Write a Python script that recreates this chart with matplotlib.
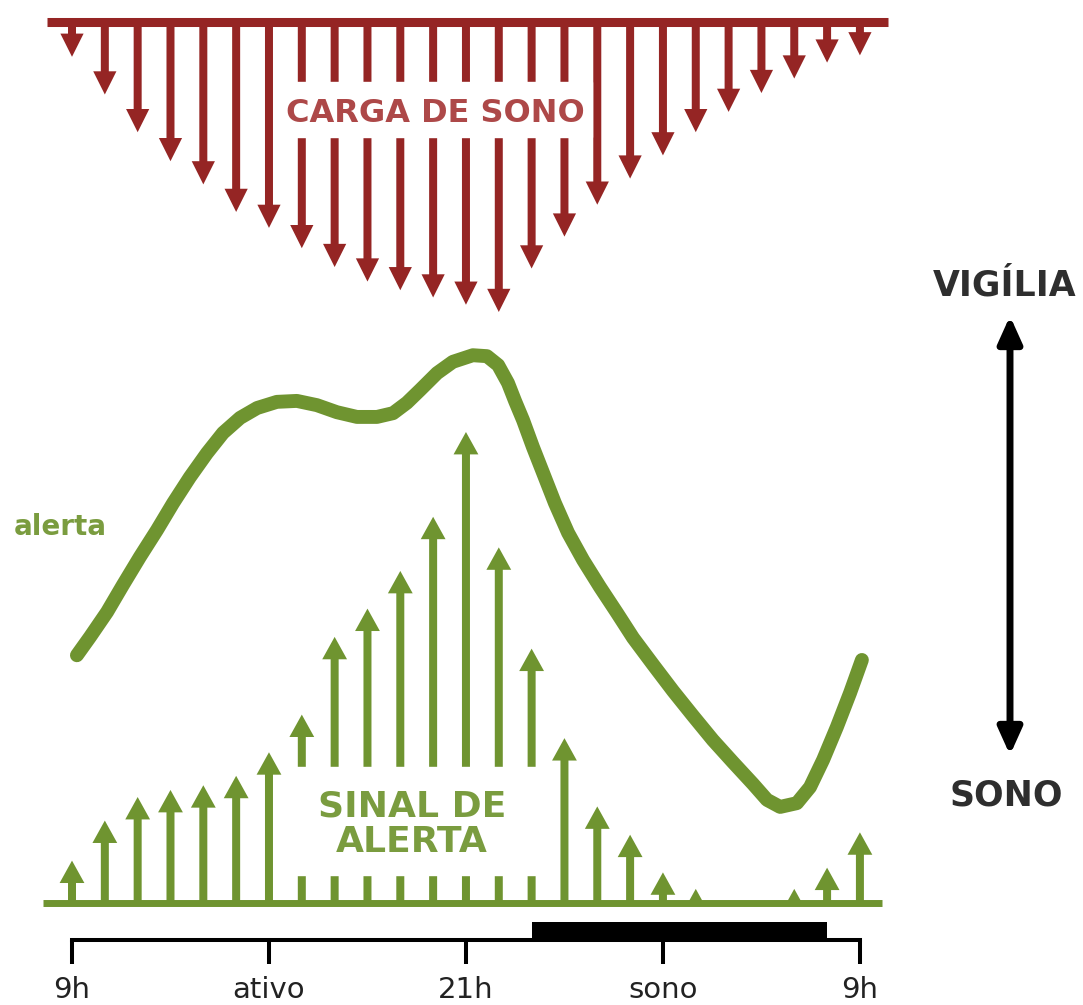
import numpy as np
import matplotlib.pyplot as plt
from matplotlib.patches import Rectangle, FancyArrowPatch

# -------- DADOS --------
# horas desde as 9h (0 = 9h, 24 = 9h do dia seguinte)
horas = np.arange(25)
carga_sono = [12, 25, 38, 48, 56, 65.5, 71, 78, 84.5, 89.5, 92.5, 95, 97.5, 100,
              85, 74, 63, 54, 46, 38, 31, 24.5, 19.5, 14, 11.5]
sinal_alerta = [9, 17.5, 22.5, 24, 25, 27, 32, 40, 56.5, 62.5, 70.5, 82, 100,
                75.5, 54, 35, 20.5, 14.5, 6.5, 3, 0, 0, 3, 7.5, 15]

# curva de alerta (mesma escala do sinal)
curva_h = [0.15, 0.55, 1.07, 1.55, 2.07, 2.59, 3.08, 3.59, 4.11, 4.6, 5.12, 5.64,
           6.24, 6.85, 7.46, 8.07, 8.68, 9.29, 9.78, 10.2, 10.6, 11.12, 11.6,
           12.21, 12.64, 12.98, 13.28, 13.5, 13.74, 14.04, 14.35, 14.71, 15.11,
           15.57, 16.08, 16.6, 17.09, 17.7, 18.31, 18.92, 19.52, 20.13, 20.74,
           21.17, 21.57, 22.08, 22.48, 22.88, 23.3, 23.7, 24.06]
curva_alerta = [52.6, 56.5, 61.8, 67.5, 73.5, 79.2, 84.9, 90.4, 95.5, 99.8, 103.0,
                105.1, 106.4, 106.6, 105.7, 104.2, 103.2, 103.2, 104.0, 106.2,
                108.9, 112.5, 114.9, 116.3, 116.1, 114.2, 110.4, 106.5, 102.5,
                96.8, 91.3, 84.9, 78.6, 72.8, 67.1, 61.6, 56.3, 50.6, 45.0, 39.7,
                34.6, 29.9, 25.3, 21.9, 20.4, 21.2, 24.6, 30.4, 37.4, 44.6, 51.6]

ticks_h = [0, 6, 12, 18, 24]
ticks_lbl = ['9h', 'ativo', '21h', 'sono', '9h']
sono_inicio, sono_fim = 14, 23

VERMELHO = '#952524'
VERMELHO_TXT = '#ad4848'
VERDE = '#6f9430'
VERDE_TXT = '#7a9c3f'
CINZA = '#2e2e2e'

# -------- FIGURA --------
W, H = 1083, 1005
fig = plt.figure(figsize=(W / 100, H / 100), dpi=100)
X0, DX = 72, 32.83          # posição da hora 0 e pixels por hora
xlim = (-X0 / DX, (W - X0) / DX)


def fy(px):
    return 1 - px / H


# carga de sono (setas para baixo)
ax_red = fig.add_axes([0, fy(330), 1, 330 / H])
ax_red.set_xlim(*xlim)
ax_red.set_ylim((330 - 22) / 2.9, -22 / 2.9)
ax_red.axis('off')
ax_red.hlines(0, -0.76, 24.86, color=VERMELHO, lw=6.5, zorder=3)
ax_red.quiver(horas, np.zeros(len(horas)), np.zeros(len(horas)), carga_sono,
              angles='xy', scale_units='xy', scale=1, units='dots', width=8,
              headwidth=2.9, headlength=2.9, headaxislength=2.9, minlength=0,
              pivot='tail', color=VERMELHO, zorder=2)
ax_red.add_patch(Rectangle((6.35, 20.7), 9.5, 19, color='white', zorder=4))
ax_red.text(11.06, 34.5, 'CARGA DE SONO', ha='center', va='baseline',
            fontsize=23, fontweight='bold', color=VERMELHO_TXT, zorder=5)

# sinal de alerta e curva
ax_green = fig.add_axes([0, fy(903), 1, (903 - 330) / H])
ax_green.set_xlim(*xlim)
ax_green.set_ylim(0, (903 - 330) / 4.71)
ax_green.axis('off')
ax_green.quiver(horas, np.zeros(len(horas)), np.zeros(len(horas)), sinal_alerta,
                angles='xy', scale_units='xy', scale=1, units='dots', width=8,
                headwidth=3.1, headlength=2.8, headaxislength=2.8, minlength=0,
                pivot='tail', color=VERDE, zorder=2)
ax_green.hlines(0, -0.88, 24.67, color=VERDE, lw=5, zorder=3, clip_on=False)
ax_green.add_patch(Rectangle((6.5, 5.9), 8.0, 23, color='white', zorder=4))
ax_green.text(10.36, 18.3, 'SINAL DE', ha='center', va='baseline',
              fontsize=26, fontweight='bold', color=VERDE_TXT, zorder=5)
ax_green.text(10.36, 10.8, 'ALERTA', ha='center', va='baseline',
              fontsize=26, fontweight='bold', color=VERDE_TXT, zorder=5)
ax_green.plot(curva_h, curva_alerta, color=VERDE, lw=10,
              solid_capstyle='round', solid_joinstyle='round', zorder=3)

# eixo do tempo
ax_t = fig.add_axes([0, fy(940), 1, 20 / H])
ax_t.set_xlim(*xlim)
ax_t.set_ylim(0, 1)
ax_t.patch.set_visible(False)
for s in ['top', 'left', 'right']:
    ax_t.spines[s].set_visible(False)
ax_t.spines['bottom'].set_linewidth(2.9)
ax_t.spines['bottom'].set_bounds(0, 24)
ax_t.set_yticks([])
ax_t.set_xticks(ticks_h)
ax_t.set_xticklabels(ticks_lbl)
ax_t.tick_params(axis='x', direction='out', length=17, width=2.9, pad=9,
                 labelsize=21, labelcolor='#222222')
ax_t.axvspan(sono_inicio, sono_fim, ymin=0, ymax=0.9, color='black', lw=0)

# textos e seta vigília/sono
fig.text(60 / W, fy(535), 'alerta', ha='center', va='baseline', fontsize=20,
         fontweight='bold', color=VERDE_TXT)
fig.text(1005 / W, fy(295), 'VIGÍLIA', ha='center', va='baseline', fontsize=25,
         fontweight='bold', color=CINZA)
fig.text(1006 / W, fy(805), 'SONO', ha='center', va='baseline', fontsize=25,
         fontweight='bold', color=CINZA)
fig.add_artist(FancyArrowPatch(
    (1010 / W, fy(755)), (1010 / W, fy(316)), transform=fig.transFigure,
    arrowstyle='<|-|>,head_length=0.8,head_width=0.36', mutation_scale=20,
    lw=5, color='black', shrinkA=0, shrinkB=0))

fig.savefig('out.png', dpi=100, facecolor='white')
